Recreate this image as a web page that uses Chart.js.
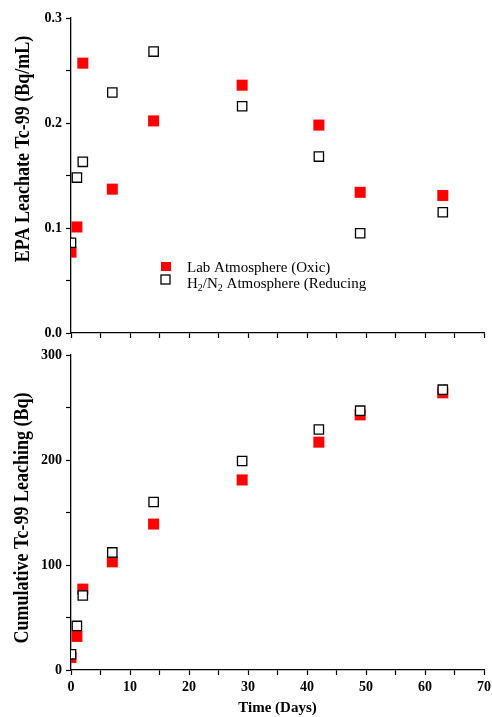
<!DOCTYPE html>
<html><head><meta charset="utf-8">
<script src="https://cdn.jsdelivr.net/npm/chart.js@4/dist/chart.umd.min.js"></script>
<style>
html,body{margin:0;padding:0;background:#fff;width:492px;height:717px;overflow:hidden}
canvas{position:absolute;left:0;display:block}
#c1{top:0}
#c2{top:345px}
</style></head><body>
<canvas id="c1" width="492" height="345"></canvas>
<canvas id="c2" width="492" height="372"></canvas>
<script>
// ---- data ----
const days = [0, 1, 2, 7, 14, 29, 42, 49, 63];
const epaOxic = [0.077, 0.101, 0.257, 0.137, 0.202, 0.236, 0.198, 0.134, 0.131];
const epaReducing = [0.086, 0.148, 0.163, 0.229, 0.268, 0.216, 0.168, 0.095, 0.115];
const cumOxic = [12, 32, 77, 103, 139, 181, 217, 243, 264];
const cumReducing = [15, 42, 71, 112, 160, 199, 229, 247, 267];
const seriesNames = ['Lab Atmosphere (Oxic)', 'H₂/N₂ Atmosphere (Reducing'];
const xTickLabels = ['0', '10', '20', '30', '40', '50', '60', '70'];
const epaTickLabels = ['0.0', '0.1', '0.2', '0.3'];
const cumTickLabels = ['0', '100', '200', '300'];
const yTitles = ['EPA Leachate Tc-99 (Bq/mL)', 'Cumulative Tc-99 Leaching (Bq)'];
const xTitle = 'Time (Days)';

const FONT = '"Liberation Serif", "Times New Roman", serif';
const RED = '#ff0000';

function pts(ys) { return days.map((d, i) => ({ x: d, y: ys[i] })); }

function datasets(oxic, red) {
  return [
    { label: seriesNames[0], data: pts(oxic), pointStyle: 'rect', pointRadius: 7.8,
      backgroundColor: RED, borderColor: RED, borderWidth: 0, showLine: false, clip: 0, order: 2 },
    { label: seriesNames[1], data: pts(red), pointStyle: 'rect', pointRadius: 6.6,
      backgroundColor: '#ffffff', borderColor: '#000000', borderWidth: 1.3, showLine: false, clip: 0, order: 1 }
  ];
}

function labelFrom(list, step) {
  return function (v) {
    const k = Math.round(v / step);
    if (Math.abs(v - k * step) < 1e-6 && k >= 0 && k < list.length) return list[k];
    return '';
  };
}

function xScale(showLabels, height, withTitle) {
  return {
    type: 'linear', position: 'bottom', min: 0, max: 70,
    ticks: { stepSize: 5, display: showLabels, autoSkip: false, maxRotation: 0,
      callback: labelFrom(xTickLabels, 10),
      font: { family: FONT, weight: 'bold', size: 14 }, color: '#000', padding: 4 },
    grid: { drawOnChartArea: false, drawTicks: true, tickLength: 5, tickColor: '#000', tickWidth: 1.2 },
    border: { display: true, color: '#000', width: 1.3 },
    title: { display: withTitle, text: xTitle, font: { family: FONT, weight: 'bold', size: 15, lineHeight: 1 },
      color: '#000', padding: { top: 0, bottom: 1 } },
    afterFit: (s) => { s.height = height; s.paddingLeft = 0; s.paddingRight = 0; }
  };
}

function yScale(max, step, labels, labelStep) {
  return {
    type: 'linear', position: 'left', min: 0, max: max,
    ticks: { stepSize: step, autoSkip: false, callback: labelFrom(labels, labelStep),
      font: { family: FONT, weight: 'bold', size: 14 }, color: '#000', padding: 4 },
    grid: { drawOnChartArea: false, drawTicks: true, tickLength: 5, tickColor: '#000', tickWidth: 1.2 },
    border: { display: true, color: '#000', width: 1.3 },
    afterFit: (s) => { s.width = 71; s.paddingTop = 0; s.paddingBottom = 0; }
  };
}

function yTitlePlugin(text, cx, cy) {
  return {
    id: 'ytitle',
    afterDraw(chart) {
      const ctx = chart.ctx;
      ctx.save();
      ctx.translate(cx, cy);
      ctx.rotate(-Math.PI / 2);
      ctx.scale(1, 1.15);
      ctx.font = 'bold 18px ' + FONT;
      ctx.fillStyle = '#000';
      ctx.textAlign = 'center';
      ctx.textBaseline = 'middle';
      ctx.fillText(text, 0, 0);
      ctx.restore();
    }
  };
}

function drawRich(ctx, text, x, y, size) {
  // renders '₂' as a lowered small '2'
  const parts = text.split(/(₂)/);
  for (const p of parts) {
    if (!p) continue;
    if (p === '₂') {
      ctx.font = 'normal ' + Math.round(size * 0.65) + 'px ' + FONT;
      ctx.fillText('2', x, y + size * 0.22);
      x += ctx.measureText('2').width;
    } else {
      ctx.font = 'normal ' + size + 'px ' + FONT;
      ctx.fillText(p, x, y);
      x += ctx.measureText(p).width;
    }
  }
}

const legendPlugin = {
  id: 'insideLegend',
  afterDraw(chart) {
    const ctx = chart.ctx;
    const ds = chart.data.datasets;
    ctx.save();
    ctx.fillStyle = ds[0].backgroundColor;
    ctx.fillRect(161, 262, 10, 9);
    ctx.fillStyle = '#fff';
    ctx.fillRect(161, 275, 9, 9);
    ctx.strokeStyle = ds[1].borderColor;
    ctx.lineWidth = 1.3;
    ctx.strokeRect(161, 275, 9, 9);
    ctx.fillStyle = '#000';
    ctx.textAlign = 'left';
    ctx.textBaseline = 'alphabetic';
    drawRich(ctx, ds[0].label, 187, 271.5, 15);
    drawRich(ctx, ds[1].label, 187, 288, 15);
    ctx.restore();
  }
};

const common = {
  responsive: false, animation: false, events: [],
  plugins: { legend: { display: false }, tooltip: { enabled: false } }
};

new Chart(document.getElementById('c1'), {
  type: 'scatter',
  data: { datasets: datasets(epaOxic, epaReducing) },
  options: Object.assign({}, common, {
    layout: { padding: { top: 18, right: 6, left: 0, bottom: 0 } },
    scales: { x: xScale(false, 12, false), y: yScale(0.3, 0.05, epaTickLabels, 0.1) }
  }),
  plugins: [legendPlugin, yTitlePlugin(yTitles[0], 24, 149)]
});

new Chart(document.getElementById('c2'), {
  type: 'scatter',
  data: { datasets: datasets(cumOxic, cumReducing) },
  options: Object.assign({}, common, {
    layout: { padding: { top: 10, right: 6, left: 0, bottom: 0 } },
    scales: { x: xScale(true, 47, true), y: yScale(300, 50, cumTickLabels, 100) }
  }),
  plugins: [yTitlePlugin(yTitles[1], 23, 173)]
});
</script>
</body></html>
